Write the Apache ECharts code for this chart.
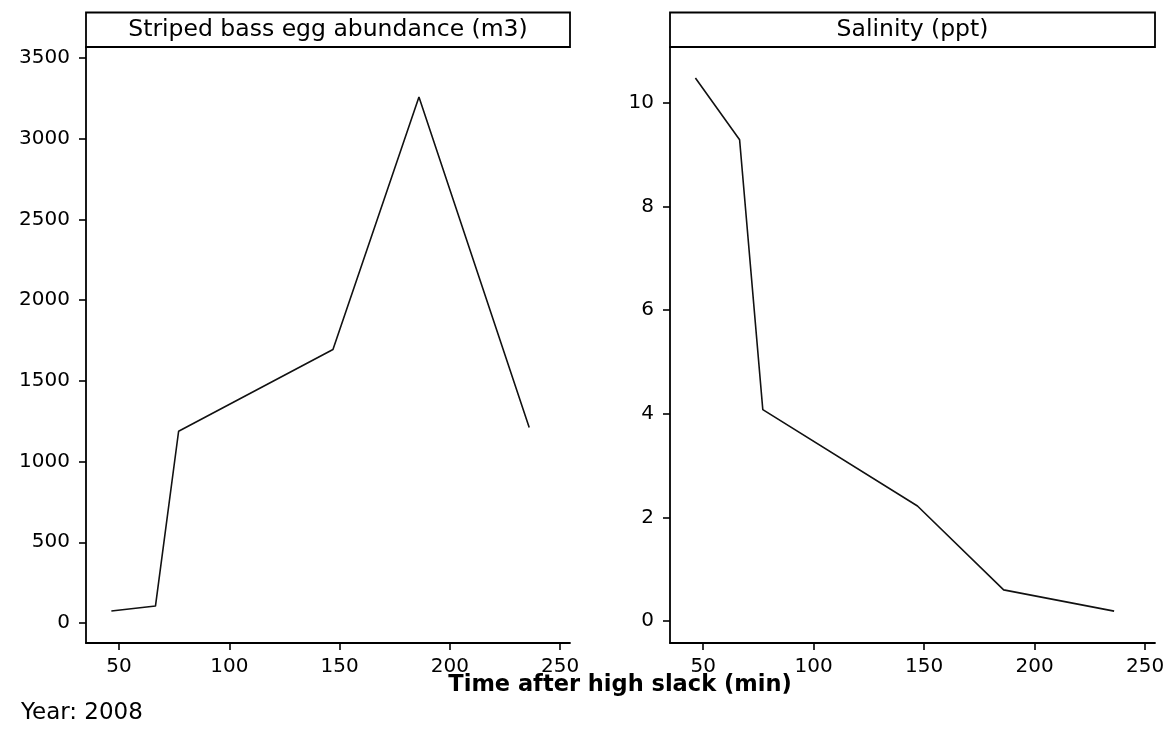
<!DOCTYPE html>
<html>
<head>
<meta charset="utf-8">
<script src="https://cdn.jsdelivr.net/npm/echarts@6/dist/echarts.min.js"></script>
<style>html,body{margin:0;padding:0;background:#fff}#c{width:1171px;height:729px}</style>
</head>
<body>
<div id="c"></div>
<script>
const timeMin = [46.5, 66.5, 77, 147, 186, 236];
const eggAbundance = [74, 105, 1188, 1695, 3259, 1212];
const salinity = [10.48, 9.29, 4.08, 2.22, 0.6, 0.19];
const xTicks = [50, 100, 150, 200, 250];
const eggTicks = [0, 500, 1000, 1500, 2000, 2500, 3000, 3500];
const salTicks = [0, 2, 4, 6, 8, 10];
const panelTitles = ['Striped bass egg abundance (m3)', 'Salinity (ppt)'];
const xTitle = 'Time after high slack (min)';
const yearLabel = 'Year: 2008';

const FONT = 'DejaVu Sans';
const chart = echarts.init(document.getElementById('c'));

function xAxis(gi) {
  return {
    type: 'value', gridIndex: gi, min: 35, max: 254.5,
    axisLine: { show: true, onZero: false, lineStyle: { color: '#000', width: 1.8 } },
    axisTick: { show: true, length: 7, customValues: xTicks, lineStyle: { color: '#000', width: 1.6 } },
    axisLabel: { customValues: xTicks, color: '#000', fontFamily: FONT, fontSize: 20, margin: 14,
      formatter: v => String(v) },
    splitLine: { show: false }
  };
}
function yAxis(gi, min, max, ticks) {
  return {
    type: 'value', gridIndex: gi, min: min, max: max,
    axisLine: { show: true, onZero: false, lineStyle: { color: '#000', width: 1.8 } },
    axisTick: { show: true, length: 7, customValues: ticks, lineStyle: { color: '#000', width: 1.6 } },
    axisLabel: { customValues: ticks, color: '#000', fontFamily: FONT, fontSize: 20, margin: 16,
      formatter: v => String(v) },
    splitLine: { show: false }
  };
}
function strip(x1, x2, text) {
  return [
    { type: 'rect', shape: { x: x1, y: 12.5, width: x2 - x1, height: 34.5 },
      style: { fill: '#fff', stroke: '#000', lineWidth: 1.8 } },
    { type: 'text', x: (x1 + x2) / 2, y: 30,
      style: { text: text, fill: '#000', font: '23.5px "' + FONT + '"', align: 'center', verticalAlign: 'middle' } }
  ];
}

chart.setOption({
  animation: false,
  backgroundColor: '#fff',
  grid: [
    { left: 86, right: 601, top: 47, bottom: 86 },
    { left: 670, right: 16, top: 47, bottom: 86 }
  ],
  xAxis: [xAxis(0), xAxis(1)],
  yAxis: [yAxis(0, -124, 3569, eggTicks), yAxis(1, -0.425, 11.08, salTicks)],
  series: [
    { type: 'line', xAxisIndex: 0, yAxisIndex: 0, data: timeMin.map((t, i) => [t, eggAbundance[i]]),
      showSymbol: false, lineStyle: { color: '#111', width: 1.6 } },
    { type: 'line', xAxisIndex: 1, yAxisIndex: 1, data: timeMin.map((t, i) => [t, salinity[i]]),
      showSymbol: false, lineStyle: { color: '#111', width: 1.6 } }
  ],
  graphic: [
    ...strip(86, 570, panelTitles[0]),
    ...strip(670, 1155, panelTitles[1]),
    { type: 'text', x: 620, y: 685,
      style: { text: xTitle, fill: '#000', font: 'bold 22.5px "' + FONT + '"', align: 'center', verticalAlign: 'middle' } },
    { type: 'text', x: 21, y: 713,
      style: { text: yearLabel, fill: '#000', font: '23px "' + FONT + '"', align: 'left', verticalAlign: 'middle' } }
  ]
});
</script>
</body>
</html>
